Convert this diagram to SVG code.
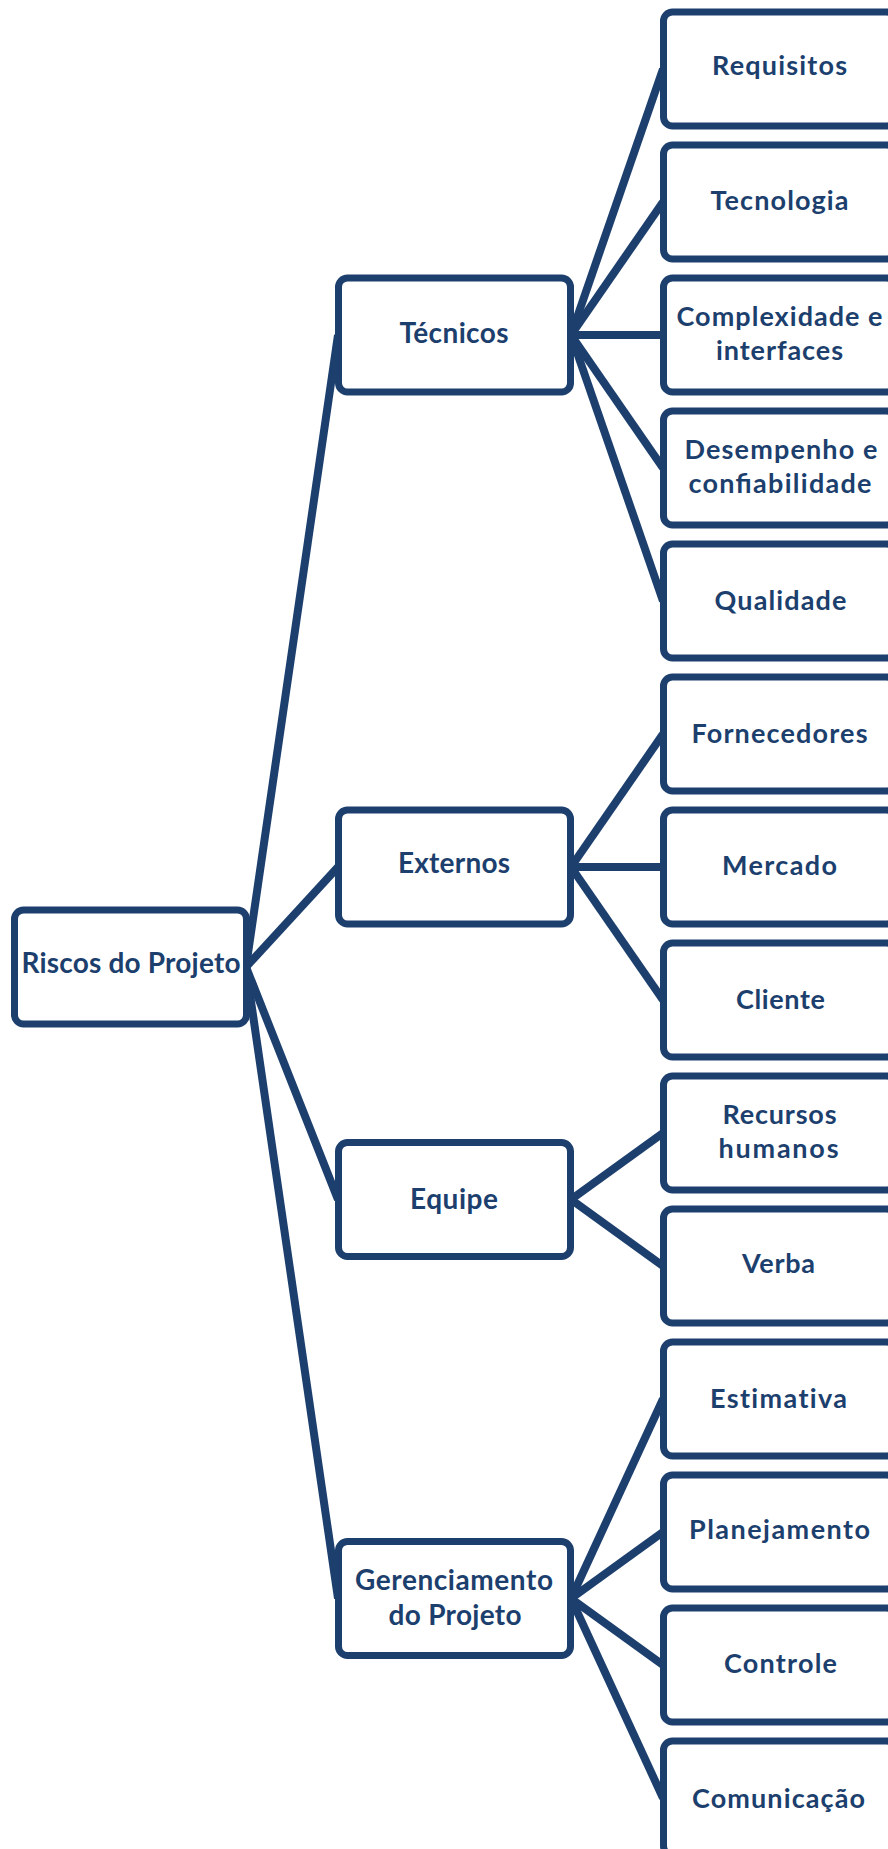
<svg xmlns="http://www.w3.org/2000/svg" width="888" height="1849" viewBox="0 0 888 1849">
<style>
.box{fill:#ffffff;stroke:#1c3f6e;stroke-width:7}
.con line{stroke:#1c3f6e;stroke-width:8;stroke-linecap:butt}
text{font-family:Lato,"Open Sans","Liberation Sans",sans-serif;font-weight:bold;fill:#1c3f6e;text-anchor:middle}
.lf{font-size:27px}
.md{font-size:28px}
.nl{font-variant-ligatures:none}
</style>
<rect width="888" height="1849" fill="#ffffff"/>
<g id="connectors" class="con">
<line x1="246" y1="967" x2="338" y2="335"/>
<line x1="246" y1="967" x2="338" y2="867"/>
<line x1="246" y1="967" x2="338" y2="1199.5"/>
<line x1="246" y1="967" x2="338" y2="1598.5"/>
<line x1="571" y1="335" x2="663" y2="69"/>
<line x1="571" y1="335" x2="663" y2="202"/>
<line x1="571" y1="335" x2="663" y2="335"/>
<line x1="571" y1="335" x2="663" y2="468"/>
<line x1="571" y1="335" x2="663" y2="601"/>
<line x1="571" y1="867" x2="663" y2="734"/>
<line x1="571" y1="867" x2="663" y2="867"/>
<line x1="571" y1="867" x2="663" y2="1000"/>
<line x1="571" y1="1199.5" x2="663" y2="1133"/>
<line x1="571" y1="1199.5" x2="663" y2="1266"/>
<line x1="571" y1="1598.5" x2="663" y2="1399"/>
<line x1="571" y1="1598.5" x2="663" y2="1532"/>
<line x1="571" y1="1598.5" x2="663" y2="1665"/>
<line x1="571" y1="1598.5" x2="663" y2="1798"/>
</g>
<g id="root"><rect class="box" x="14.5" y="910" width="232" height="114" rx="9"/><text class="md" x="131" y="973" textLength="219">Riscos do Projeto</text></g>
<g id="tecnicos"><rect class="box" x="338.5" y="278" width="232" height="114" rx="9"/><text class="md" x="454" y="343" textLength="109">Técnicos</text></g>
<g id="externos"><rect class="box" x="338.5" y="810" width="232" height="114" rx="9"/><text class="md" x="454" y="873" textLength="112">Externos</text></g>
<g id="equipe"><rect class="box" x="338.5" y="1142.5" width="232" height="114" rx="9"/><text class="md" x="454" y="1209" textLength="88">Equipe</text></g>
<g id="gerenciamento"><rect class="box" x="338.5" y="1541.5" width="232" height="114" rx="9"/><text class="md" x="454" y="1590" textLength="198">Gerenciamento</text><text class="md" x="455" y="1625" textLength="133">do Projeto</text></g>
<g id="requisitos"><rect class="box" x="663.5" y="12" width="232" height="114" rx="9"/><text class="lf" x="779.5" y="75" textLength="135">Requisitos</text></g>
<g id="tecnologia"><rect class="box" x="663.5" y="145" width="232" height="114" rx="9"/><text class="lf" x="779.5" y="209.5" textLength="138">Tecnologia</text></g>
<g id="complexidade"><rect class="box" x="663.5" y="278" width="232" height="114" rx="9"/><text class="lf" x="779.5" y="326" textLength="206">Complexidade e</text><text class="lf" x="779.5" y="360" textLength="127">interfaces</text></g>
<g id="desempenho"><rect class="box" x="663.5" y="411" width="232" height="114" rx="9"/><text class="lf" x="781" y="459" textLength="193">Desempenho e</text><text class="lf" x="780" y="492.5" textLength="183">confiabilidade</text></g>
<g id="qualidade"><rect class="box" x="663.5" y="544" width="232" height="114" rx="9"/><text class="lf" x="780.5" y="610" textLength="132">Qualidade</text></g>
<g id="fornecedores"><rect class="box" x="663.5" y="677" width="232" height="114" rx="9"/><text class="lf" x="779.5" y="742.5" textLength="176">Fornecedores</text></g>
<g id="mercado"><rect class="box" x="663.5" y="810" width="232" height="114" rx="9"/><text class="lf" x="779.5" y="875" textLength="115">Mercado</text></g>
<g id="cliente"><rect class="box" x="663.5" y="943" width="232" height="114" rx="9"/><text class="lf" x="780.5" y="1009" textLength="89">Cliente</text></g>
<g id="recursos"><rect class="box" x="663.5" y="1076" width="232" height="114" rx="9"/><text class="lf" x="779.5" y="1124" textLength="114">Recursos</text><text class="lf" x="778.5" y="1158" textLength="120">humanos</text></g>
<g id="verba"><rect class="box" x="663.5" y="1209" width="232" height="114" rx="9"/><text class="lf" x="778.5" y="1273" textLength="73">Verba</text></g>
<g id="estimativa"><rect class="box" x="663.5" y="1342" width="232" height="114" rx="9"/><text class="lf nl" x="778.5" y="1408" textLength="137">Estimativa</text></g>
<g id="planejamento"><rect class="box" x="663.5" y="1475" width="232" height="114" rx="9"/><text class="lf" x="779.5" y="1539" textLength="181">Planejamento</text></g>
<g id="controle"><rect class="box" x="663.5" y="1608" width="232" height="114" rx="9"/><text class="lf" x="780.5" y="1673" textLength="113">Controle</text></g>
<g id="comunicacao"><rect class="box" x="663.5" y="1741" width="232" height="114" rx="9"/><text class="lf" x="778.5" y="1807.5" textLength="173">Comunicação</text></g>
</svg>
